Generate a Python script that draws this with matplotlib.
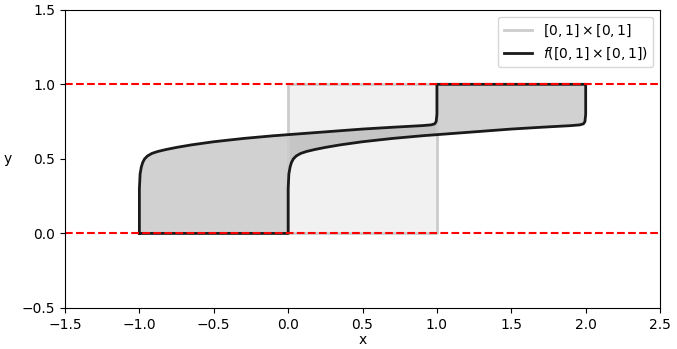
import numpy as np
import matplotlib
matplotlib.use('Agg')
import matplotlib.pyplot as plt

# unit square
square_x = [0, 1, 1, 0, 0]
square_y = [0, 0, 1, 1, 0]

# image of the left edge x=0
left_x = np.array([-1.000, -1.000, -0.995, -0.987, -0.978, -0.965, -0.945, -0.915,
                   -0.875, -0.820, -0.750, -0.650, -0.500, -0.300, -0.100, 0.100,
                   0.300, 0.500, 0.700, 0.900, 0.960, 0.985, 0.995, 1.000, 1.000])
left_y = np.array([0.000, 0.300, 0.400, 0.445, 0.475, 0.500, 0.520, 0.537,
                   0.550, 0.563, 0.577, 0.594, 0.615, 0.637, 0.655, 0.670,
                   0.685, 0.700, 0.712, 0.723, 0.728, 0.735, 0.750, 0.800, 1.000])
# image of the right edge x=1 is the same curve moved one unit right
shift = 1.0
right_x = left_x + shift
right_y = left_y

# boundary of f([0,1]x[0,1]): left curve up, top edge, right curve down, bottom edge
shape_x = np.concatenate([left_x, right_x[::-1], left_x[:1]])
shape_y = np.concatenate([left_y, right_y[::-1], left_y[:1]])

fig, ax = plt.subplots(figsize=(6.77, 3.49), dpi=100)
fig.subplots_adjust(left=0.096, right=0.975, bottom=0.1175, top=0.972)

ax.fill(square_x, square_y, color='lightgray', alpha=0.3, lw=0)
ax.plot(square_x, square_y, color='0.8', lw=2, label=r'$[0,1]\times[0,1]$')

ax.fill(shape_x, shape_y, color='k', alpha=0.18, lw=0)
ax.plot(shape_x, shape_y, color='0.1', lw=2, label=r'$f([0,1]\times[0,1])$')

ax.axhline(0, color='r', ls='--', lw=1.5)
ax.axhline(1, color='r', ls='--', lw=1.5)

ax.set_xlim(-1.5, 2.5)
ax.set_ylim(-0.5, 1.5)
ax.set_yticks(np.arange(-0.5, 1.51, 0.5))
ax.set_xlabel('x', labelpad=1)
ax.set_ylabel('y', rotation=0, va='center', labelpad=10)
ax.legend(loc='upper right')

plt.savefig('out.png')
